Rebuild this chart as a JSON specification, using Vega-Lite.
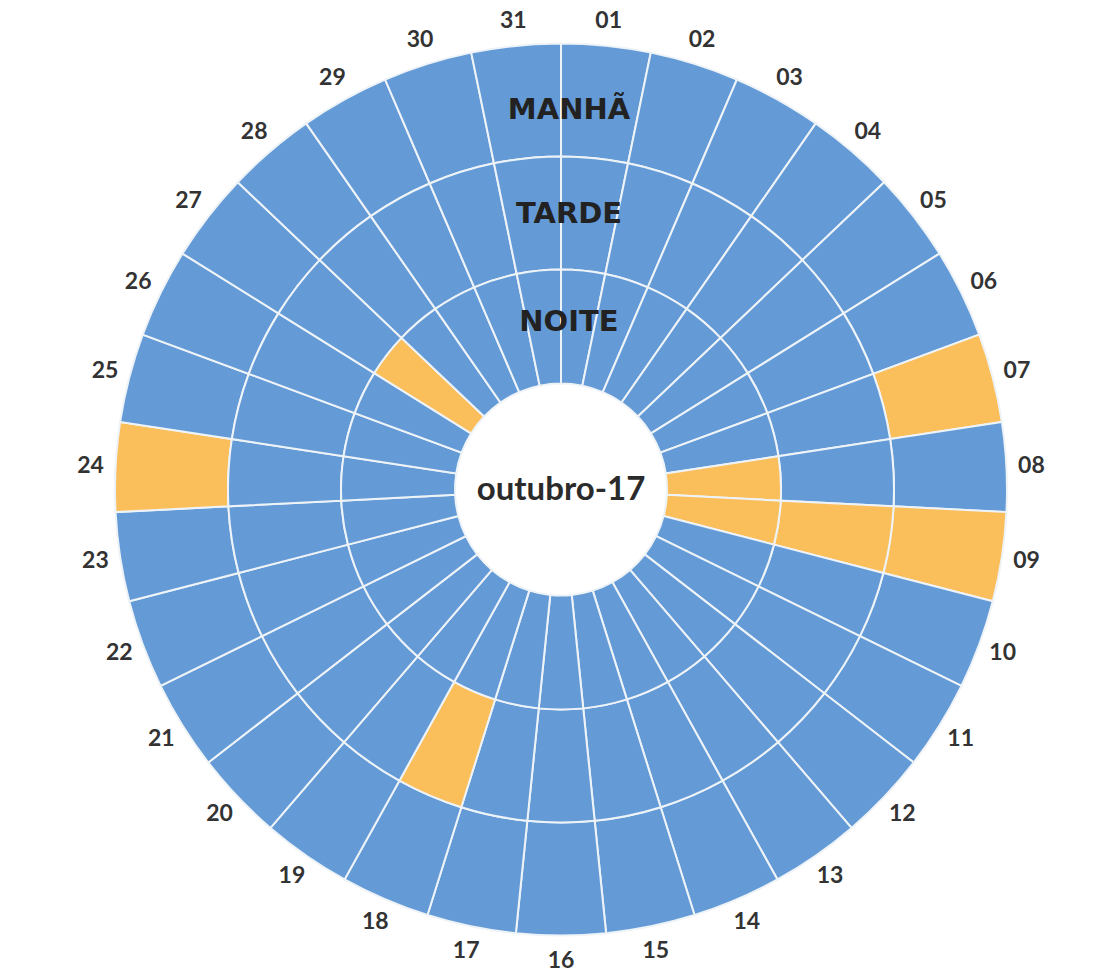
{
  "$schema": "https://vega.github.io/schema/vega-lite/v6.json",
  "width": 1112,
  "height": 977,
  "autosize": {"type": "fit", "contains": "padding"},
  "padding": {"left": 10, "right": 0, "top": 2, "bottom": 0},
  "background": "white",
  "view": {"stroke": null},
  "datasets": {
    "celulas": [
      {"dia": "01", "periodo": "MANHÃ", "marcado": "não"}, {"dia": "01", "periodo": "TARDE", "marcado": "não"}, {"dia": "01", "periodo": "NOITE", "marcado": "não"},
      {"dia": "02", "periodo": "MANHÃ", "marcado": "não"}, {"dia": "02", "periodo": "TARDE", "marcado": "não"}, {"dia": "02", "periodo": "NOITE", "marcado": "não"},
      {"dia": "03", "periodo": "MANHÃ", "marcado": "não"}, {"dia": "03", "periodo": "TARDE", "marcado": "não"}, {"dia": "03", "periodo": "NOITE", "marcado": "não"},
      {"dia": "04", "periodo": "MANHÃ", "marcado": "não"}, {"dia": "04", "periodo": "TARDE", "marcado": "não"}, {"dia": "04", "periodo": "NOITE", "marcado": "não"},
      {"dia": "05", "periodo": "MANHÃ", "marcado": "não"}, {"dia": "05", "periodo": "TARDE", "marcado": "não"}, {"dia": "05", "periodo": "NOITE", "marcado": "não"},
      {"dia": "06", "periodo": "MANHÃ", "marcado": "não"}, {"dia": "06", "periodo": "TARDE", "marcado": "não"}, {"dia": "06", "periodo": "NOITE", "marcado": "não"},
      {"dia": "07", "periodo": "MANHÃ", "marcado": "sim"}, {"dia": "07", "periodo": "TARDE", "marcado": "não"}, {"dia": "07", "periodo": "NOITE", "marcado": "não"},
      {"dia": "08", "periodo": "MANHÃ", "marcado": "não"}, {"dia": "08", "periodo": "TARDE", "marcado": "não"}, {"dia": "08", "periodo": "NOITE", "marcado": "sim"},
      {"dia": "09", "periodo": "MANHÃ", "marcado": "sim"}, {"dia": "09", "periodo": "TARDE", "marcado": "sim"}, {"dia": "09", "periodo": "NOITE", "marcado": "sim"},
      {"dia": "10", "periodo": "MANHÃ", "marcado": "não"}, {"dia": "10", "periodo": "TARDE", "marcado": "não"}, {"dia": "10", "periodo": "NOITE", "marcado": "não"},
      {"dia": "11", "periodo": "MANHÃ", "marcado": "não"}, {"dia": "11", "periodo": "TARDE", "marcado": "não"}, {"dia": "11", "periodo": "NOITE", "marcado": "não"},
      {"dia": "12", "periodo": "MANHÃ", "marcado": "não"}, {"dia": "12", "periodo": "TARDE", "marcado": "não"}, {"dia": "12", "periodo": "NOITE", "marcado": "não"},
      {"dia": "13", "periodo": "MANHÃ", "marcado": "não"}, {"dia": "13", "periodo": "TARDE", "marcado": "não"}, {"dia": "13", "periodo": "NOITE", "marcado": "não"},
      {"dia": "14", "periodo": "MANHÃ", "marcado": "não"}, {"dia": "14", "periodo": "TARDE", "marcado": "não"}, {"dia": "14", "periodo": "NOITE", "marcado": "não"},
      {"dia": "15", "periodo": "MANHÃ", "marcado": "não"}, {"dia": "15", "periodo": "TARDE", "marcado": "não"}, {"dia": "15", "periodo": "NOITE", "marcado": "não"},
      {"dia": "16", "periodo": "MANHÃ", "marcado": "não"}, {"dia": "16", "periodo": "TARDE", "marcado": "não"}, {"dia": "16", "periodo": "NOITE", "marcado": "não"},
      {"dia": "17", "periodo": "MANHÃ", "marcado": "não"}, {"dia": "17", "periodo": "TARDE", "marcado": "não"}, {"dia": "17", "periodo": "NOITE", "marcado": "não"},
      {"dia": "18", "periodo": "MANHÃ", "marcado": "não"}, {"dia": "18", "periodo": "TARDE", "marcado": "sim"}, {"dia": "18", "periodo": "NOITE", "marcado": "não"},
      {"dia": "19", "periodo": "MANHÃ", "marcado": "não"}, {"dia": "19", "periodo": "TARDE", "marcado": "não"}, {"dia": "19", "periodo": "NOITE", "marcado": "não"},
      {"dia": "20", "periodo": "MANHÃ", "marcado": "não"}, {"dia": "20", "periodo": "TARDE", "marcado": "não"}, {"dia": "20", "periodo": "NOITE", "marcado": "não"},
      {"dia": "21", "periodo": "MANHÃ", "marcado": "não"}, {"dia": "21", "periodo": "TARDE", "marcado": "não"}, {"dia": "21", "periodo": "NOITE", "marcado": "não"},
      {"dia": "22", "periodo": "MANHÃ", "marcado": "não"}, {"dia": "22", "periodo": "TARDE", "marcado": "não"}, {"dia": "22", "periodo": "NOITE", "marcado": "não"},
      {"dia": "23", "periodo": "MANHÃ", "marcado": "não"}, {"dia": "23", "periodo": "TARDE", "marcado": "não"}, {"dia": "23", "periodo": "NOITE", "marcado": "não"},
      {"dia": "24", "periodo": "MANHÃ", "marcado": "sim"}, {"dia": "24", "periodo": "TARDE", "marcado": "não"}, {"dia": "24", "periodo": "NOITE", "marcado": "não"},
      {"dia": "25", "periodo": "MANHÃ", "marcado": "não"}, {"dia": "25", "periodo": "TARDE", "marcado": "não"}, {"dia": "25", "periodo": "NOITE", "marcado": "não"},
      {"dia": "26", "periodo": "MANHÃ", "marcado": "não"}, {"dia": "26", "periodo": "TARDE", "marcado": "não"}, {"dia": "26", "periodo": "NOITE", "marcado": "não"},
      {"dia": "27", "periodo": "MANHÃ", "marcado": "não"}, {"dia": "27", "periodo": "TARDE", "marcado": "não"}, {"dia": "27", "periodo": "NOITE", "marcado": "sim"},
      {"dia": "28", "periodo": "MANHÃ", "marcado": "não"}, {"dia": "28", "periodo": "TARDE", "marcado": "não"}, {"dia": "28", "periodo": "NOITE", "marcado": "não"},
      {"dia": "29", "periodo": "MANHÃ", "marcado": "não"}, {"dia": "29", "periodo": "TARDE", "marcado": "não"}, {"dia": "29", "periodo": "NOITE", "marcado": "não"},
      {"dia": "30", "periodo": "MANHÃ", "marcado": "não"}, {"dia": "30", "periodo": "TARDE", "marcado": "não"}, {"dia": "30", "periodo": "NOITE", "marcado": "não"},
      {"dia": "31", "periodo": "MANHÃ", "marcado": "não"}, {"dia": "31", "periodo": "TARDE", "marcado": "não"}, {"dia": "31", "periodo": "NOITE", "marcado": "não"}
    ],
    "aneis": [{"periodo": "MANHÃ"}, {"periodo": "TARDE"}, {"periodo": "NOITE"}],
    "centro": [{"titulo": "outubro-17"}]
  },
  "layer": [
    {
      "data": {"name": "celulas"},
      "transform": [{"filter": "datum.periodo === 'MANHÃ'"}],
      "mark": {"type": "arc", "innerRadius": 333, "outerRadius": 446, "stroke": "#eef3f8", "strokeWidth": 2},
      "encoding": {
        "theta": {"aggregate": "count", "type": "quantitative", "stack": true, "scale": {"domain": [0, 31]}},
        "color": {"field": "marcado", "type": "nominal", "scale": {"domain": ["não", "sim"], "range": ["#649bd7", "#fabe5a"]}, "legend": null},
        "detail": {"field": "dia", "type": "ordinal"},
        "order": {"field": "dia", "type": "ordinal", "sort": "ascending"}
      }
    },
    {
      "data": {"name": "celulas"},
      "transform": [{"filter": "datum.periodo === 'TARDE'"}],
      "mark": {"type": "arc", "innerRadius": 220, "outerRadius": 333, "stroke": "#eef3f8", "strokeWidth": 2},
      "encoding": {
        "theta": {"aggregate": "count", "type": "quantitative", "stack": true, "scale": {"domain": [0, 31]}},
        "color": {"field": "marcado", "type": "nominal", "scale": {"domain": ["não", "sim"], "range": ["#649bd7", "#fabe5a"]}, "legend": null},
        "detail": {"field": "dia", "type": "ordinal"},
        "order": {"field": "dia", "type": "ordinal", "sort": "ascending"}
      }
    },
    {
      "data": {"name": "celulas"},
      "transform": [{"filter": "datum.periodo === 'NOITE'"}],
      "mark": {"type": "arc", "innerRadius": 106, "outerRadius": 220, "stroke": "#eef3f8", "strokeWidth": 2},
      "encoding": {
        "theta": {"aggregate": "count", "type": "quantitative", "stack": true, "scale": {"domain": [0, 31]}},
        "color": {"field": "marcado", "type": "nominal", "scale": {"domain": ["não", "sim"], "range": ["#649bd7", "#fabe5a"]}, "legend": null},
        "detail": {"field": "dia", "type": "ordinal"},
        "order": {"field": "dia", "type": "ordinal", "sort": "ascending"}
      }
    },
    {
      "data": {"name": "celulas"},
      "transform": [{"filter": "datum.periodo === 'MANHÃ'"}],
      "mark": {"type": "text", "radius": 471, "font": "Lato", "fontSize": 23, "fontWeight": "bold", "color": "#333333"},
      "encoding": {
        "theta": {"aggregate": "count", "type": "quantitative", "stack": true, "scale": {"domain": [0, 31]}},
        "detail": {"field": "dia", "type": "ordinal"},
        "order": {"field": "dia", "type": "ordinal", "sort": "ascending"},
        "text": {"field": "dia", "type": "nominal"}
      }
    },
    {
      "data": {"name": "aneis"},
      "transform": [{"filter": "datum.periodo === 'MANHÃ'"}],
      "mark": {"type": "text", "radius": 380, "dx": 8, "font": "DejaVu Sans", "fontSize": 29, "fontWeight": "bold", "color": "#222222"},
      "encoding": {"theta": {"value": 0}, "text": {"field": "periodo", "type": "nominal"}}
    },
    {
      "data": {"name": "aneis"},
      "transform": [{"filter": "datum.periodo === 'TARDE'"}],
      "mark": {"type": "text", "radius": 276, "dx": 8, "font": "DejaVu Sans", "fontSize": 29, "fontWeight": "bold", "color": "#222222"},
      "encoding": {"theta": {"value": 0}, "text": {"field": "periodo", "type": "nominal"}}
    },
    {
      "data": {"name": "aneis"},
      "transform": [{"filter": "datum.periodo === 'NOITE'"}],
      "mark": {"type": "text", "radius": 168, "dx": 8, "font": "DejaVu Sans", "fontSize": 29, "fontWeight": "bold", "color": "#222222"},
      "encoding": {"theta": {"value": 0}, "text": {"field": "periodo", "type": "nominal"}}
    },
    {
      "data": {"name": "centro"},
      "mark": {"type": "text", "font": "Lato", "fontSize": 33, "fontWeight": "bold", "color": "#2b2b2b"},
      "encoding": {"text": {"field": "titulo", "type": "nominal"}}
    }
  ]
}
